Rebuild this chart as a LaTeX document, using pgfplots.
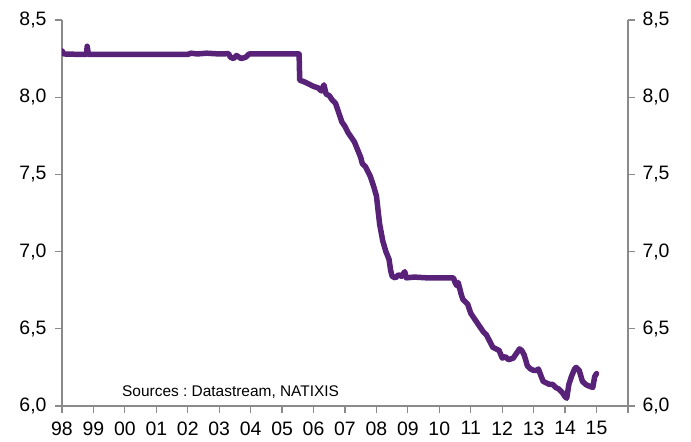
\documentclass[border=0pt]{standalone}
\usepackage{pgfplots}
\pgfplotsset{compat=1.18}
\usepackage{fontspec}
\setmainfont{Liberation Sans}
\frenchspacing
\definecolor{cnyline}{RGB}{88,34,120}
\definecolor{axgray}{RGB}{138,138,138}
\pgfplotsset{
  basestyle/.style={
    scale only axis, width=566bp, height=386bp,
    xmin=1998, xmax=2016, ymin=6, ymax=8.5,
    ytick={6,6.5,7,7.5,8,8.5},
    tick align=outside, major tick length=7bp,
    axis line style={axgray, line width=1.2bp},
    tick style={axgray, line width=1.2bp},
    /pgf/number format/assume math mode=true,
    tick label style={font=\fontsize{19.5}{20}\selectfont, text=black},
    yticklabel style={/pgf/number format/fixed, /pgf/number format/fixed zerofill, /pgf/number format/precision=1, /pgf/number format/use comma},
  }
}
\begin{document}
\begin{tikzpicture}
\begin{axis}[basestyle,
  axis x line*=bottom, axis y line*=left,
  xtick={1998,1999,...,2016},
  xticklabels={98,99,00,01,02,03,04,05,06,07,08,09,10,11,12,13,14,15,},
  yticklabel style={xshift=-5bp},
  xticklabel style={yshift=-5bp},
]
\addplot[cnyline, line width=5.5bp, line join=round, line cap=round] coordinates {
(1998.00,8.30) (1998.03,8.29) (1998.06,8.28) (1998.40,8.278) (1998.78,8.278) (1998.80,8.33) (1998.84,8.278)
(1999.5,8.277) (2000.5,8.277) (2001.5,8.277) (2002.0,8.277) (2002.1,8.285) (2002.3,8.28) (2002.6,8.285)
(2003.0,8.28) (2003.3,8.282) (2003.35,8.26) (2003.45,8.25) (2003.55,8.27) (2003.7,8.25) (2003.85,8.26)
(2003.95,8.28) (2004.5,8.28) (2005.0,8.28) (2005.54,8.28) (2005.56,8.11) (2005.7,8.10) (2005.9,8.08)
(2006.0,8.07) (2006.15,8.06) (2006.25,8.04) (2006.33,8.08) (2006.4,8.02) (2006.5,8.01) (2006.6,7.98)
(2006.7,7.96) (2006.8,7.90) (2006.9,7.84) (2007.0,7.81) (2007.1,7.77) (2007.2,7.74) (2007.3,7.71)
(2007.4,7.66) (2007.5,7.61) (2007.55,7.57) (2007.65,7.55) (2007.8,7.49) (2007.9,7.43) (2008.0,7.36)
(2008.05,7.27) (2008.1,7.18) (2008.2,7.07) (2008.3,7.00) (2008.4,6.95) (2008.45,6.88) (2008.5,6.84)
(2008.6,6.83) (2008.7,6.85) (2008.8,6.84) (2008.9,6.87) (2008.95,6.83) (2009.2,6.835) (2009.6,6.83)
(2010.0,6.83) (2010.45,6.83) (2010.5,6.80) (2010.55,6.78) (2010.6,6.80) (2010.7,6.72) (2010.75,6.69)
(2010.9,6.66) (2011.0,6.60) (2011.1,6.57) (2011.2,6.54) (2011.3,6.51) (2011.4,6.48) (2011.5,6.46)
(2011.6,6.42) (2011.7,6.38) (2011.8,6.37) (2011.9,6.36) (2012.0,6.31) (2012.1,6.32) (2012.2,6.30)
(2012.35,6.31) (2012.45,6.34) (2012.55,6.37) (2012.62,6.36) (2012.7,6.33) (2012.8,6.26) (2012.9,6.24)
(2013.0,6.23) (2013.1,6.23) (2013.15,6.24) (2013.3,6.16) (2013.4,6.15) (2013.5,6.14) (2013.6,6.14)
(2013.7,6.12) (2013.8,6.11) (2013.9,6.09) (2014.0,6.06) (2014.05,6.05) (2014.12,6.14) (2014.2,6.19)
(2014.3,6.24) (2014.35,6.25) (2014.45,6.23) (2014.55,6.16) (2014.65,6.14) (2014.75,6.13) (2014.88,6.12)
(2014.94,6.19) (2015.0,6.21)
};
\node[anchor=west, font=\fontsize{15.5}{16}\selectfont, inner sep=0pt] at (rel axis cs:0.106,0.036) {Sources : Datastream, NATIXIS};
\end{axis}
\begin{axis}[basestyle,
  axis x line=none, axis y line*=right,
  yticklabel style={xshift=4bp},
]
\end{axis}
\pgfresetboundingbox
\path ([shift={(-62bp,-36bp)}]current axis.south west) rectangle ([shift={(63bp,20bp)}]current axis.north east);
\end{tikzpicture}
\end{document}
